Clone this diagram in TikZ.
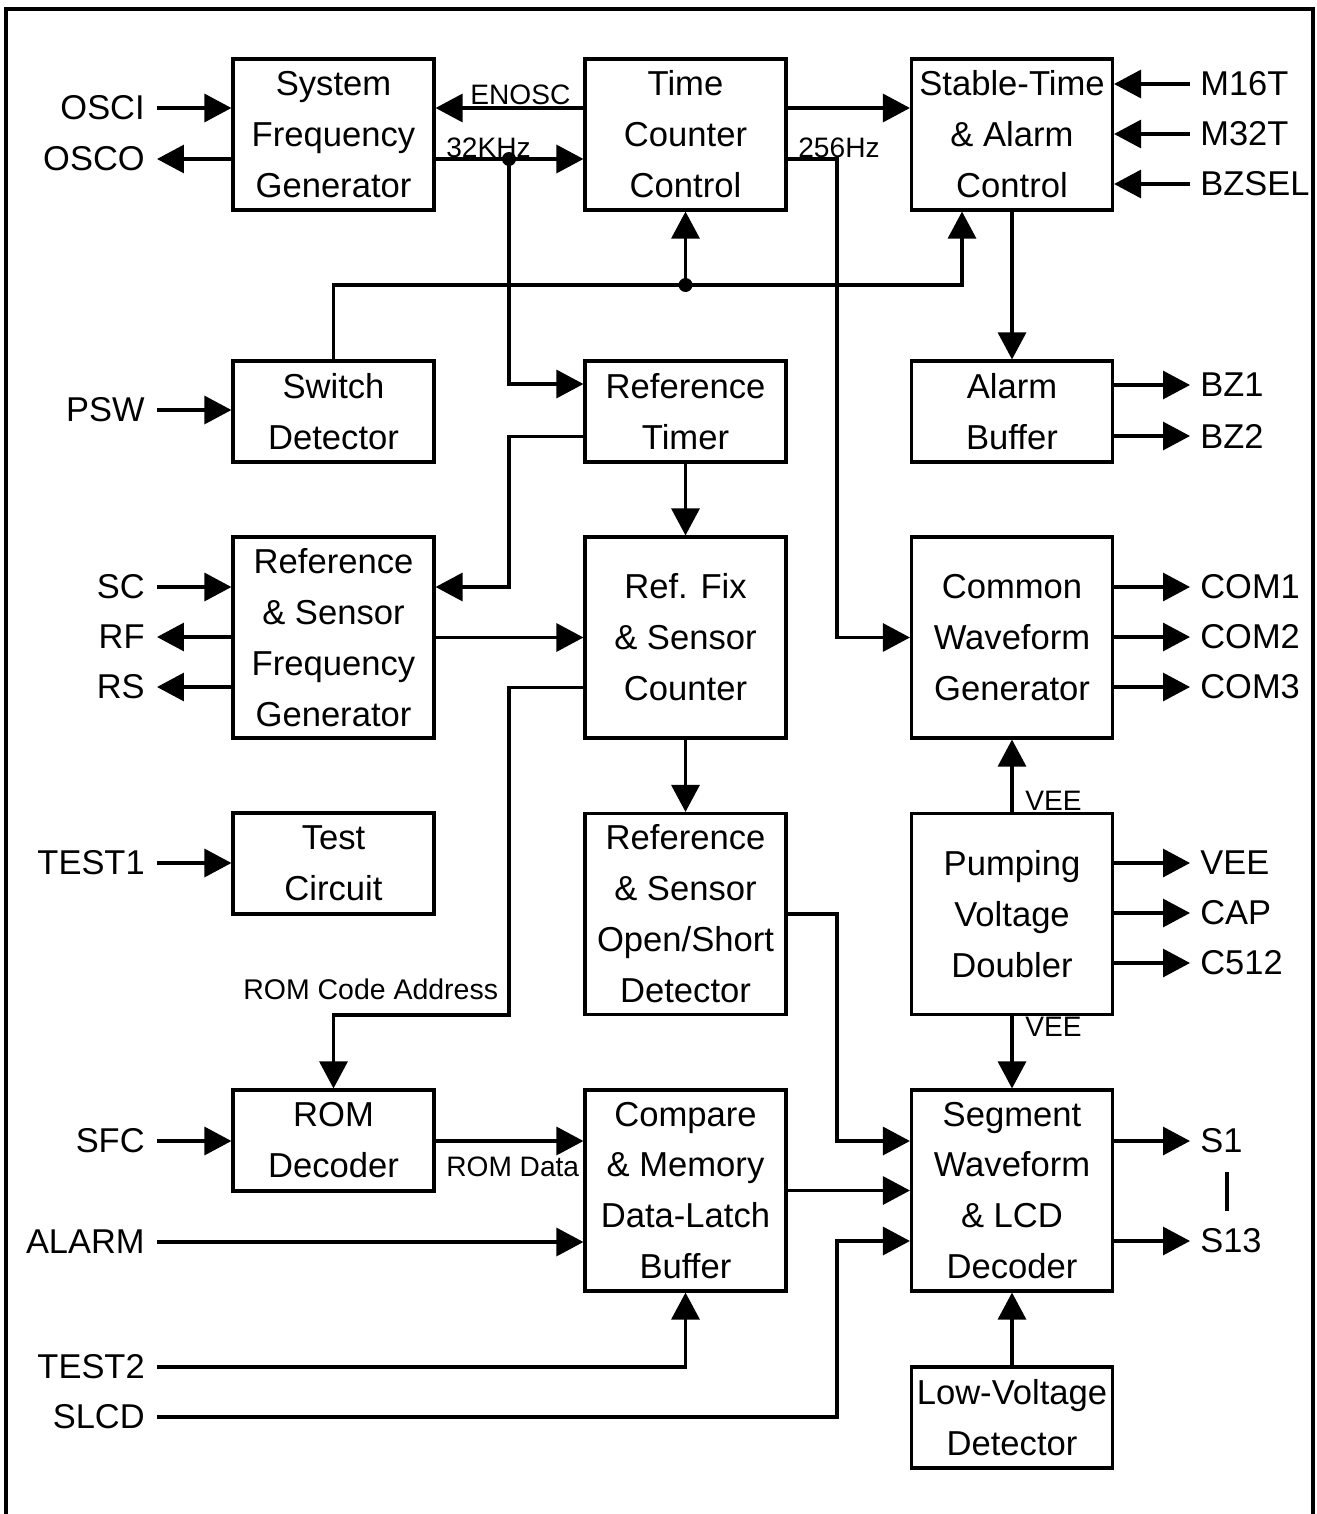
\documentclass[tikz,border=0pt]{standalone}
\usepackage{fontspec}
\setmainfont{Liberation Sans}
\usetikzlibrary{arrows.meta}
\begin{document}
\begin{tikzpicture}[x=0.02cm,y=-0.02cm,
  box/.style={draw, line width=1.8pt, inner sep=0pt, minimum width=4.02cm, align=center,
    font=\fontsize{19.7}{29}\selectfont},
  hone/.style={minimum height=2.02cm},
  honefive/.style={minimum height=3.02cm},
  htwo/.style={minimum height=4.02cm},
  pinl/.style={anchor=east, inner xsep=0.24cm, inner ysep=0pt, font=\fontsize{19.6}{24}\selectfont},
  pinr/.style={anchor=west, inner xsep=0.2cm, inner ysep=0pt, font=\fontsize{19.6}{24}\selectfont},
  sig/.style={line width=1.8pt, -{Triangle[length=0.54cm,width=0.56cm]}},
  wire/.style={line width=1.8pt},
  lbl/.style={inner sep=0pt, font=\fontsize{16}{18}\selectfont},
  jdot/.style={circle, fill, inner sep=0pt, minimum size=0.28cm}
]
\useasboundingbox (0,0) rectangle (1316,1514);
\draw[line width=1.8pt] (6,9) rectangle (1313,1560);

% boxes
\node[box,honefive] (sfg) at (333.5,134.5) {System\\Frequency\\Generator};
\node[box,honefive] (tcc) at (685.5,134.5) {Time\\Counter\\Control};
\node[box,honefive] (sta) at (1012,134.5) {Stable-Time\\\& Alarm\\Control};
\node[box,hone] (swd) at (333.5,411.5) {Switch\\Detector};
\node[box,hone] (rtm) at (685.5,411.5) {Reference\\Timer};
\node[box,hone] (alb) at (1012,411.5) {Alarm\\Buffer};
\node[box,htwo] (rsf) at (333.5,637.5) {Reference\\\& Sensor\\Frequency\\Generator};
\node[box,htwo] (rfx) at (685.5,637.5) {Ref. Fix\\\& Sensor\\Counter};
\node[box,htwo] (cwg) at (1012,637.5) {Common\\Waveform\\Generator};
\node[box,hone] (tst) at (333.5,863.5) {Test\\Circuit};
\node[box,htwo] (osd) at (685.5,914) {Reference\\\& Sensor\\Open/Short\\Detector};
\node[box,htwo] (pvd) at (1012,914) {Pumping\\Voltage\\Doubler};
\node[box,hone] (rom) at (333.5,1140.5) {ROM\\Decoder};
\node[box,htwo] (cmp) at (685.5,1190.5) {Compare\\\& Memory\\Data-Latch\\Buffer};
\node[box,htwo] (seg) at (1012,1190.5) {Segment\\Waveform\\\& LCD\\Decoder};
\node[box,hone] (lvd) at (1012,1417.5) {Low-Voltage\\Detector};

% left pins
\node[pinl] (osci) at (157,108) {OSCI};
\node[pinl] (osco) at (157,159) {OSCO};
\node[pinl] (psw) at (157,410) {PSW};
\node[pinl] (sc) at (157,587) {SC};
\node[pinl] (rf) at (157,637) {RF};
\node[pinl] (rs) at (157,687) {RS};
\node[pinl] (test1) at (157,863) {TEST1};
\node[pinl] (sfc) at (157,1141) {SFC};
\node[pinl] (alarm) at (157,1242) {ALARM};
\node[pinl] (test2) at (157,1367) {TEST2};
\node[pinl] (slcd) at (157,1417) {SLCD};

% right pins
\node[pinr] (m16t) at (1190,84) {M16T};
\node[pinr] (m32t) at (1190,134) {M32T};
\node[pinr] (bzsel) at (1190,184) {BZSEL};
\node[pinr] (bz1) at (1190,385) {BZ1};
\node[pinr] (bz2) at (1190,436) {BZ2};
\node[pinr] (com1) at (1190,587) {COM1};
\node[pinr] (com2) at (1190,637) {COM2};
\node[pinr] (com3) at (1190,687) {COM3};
\node[pinr] (vee) at (1190,863) {VEE};
\node[pinr] (cap) at (1190,913) {CAP};
\node[pinr] (c512) at (1190,963) {C512};
\node[pinr] (s1) at (1190,1141) {S1};
\node[pinr] (s13) at (1190,1241) {S13};

% small labels
\node[lbl, anchor=base west] (lenosc) at (470,105) {ENOSC};
\node[lbl, anchor=base west] (lk32) at (446,157) {32KHz};
\node[lbl, anchor=base west] (lh256) at (798,157) {256Hz};
\node[lbl, anchor=base west] (lveea) at (1025,810) {VEE};
\node[lbl, anchor=base west] (lveeb) at (1025,1036) {VEE};
\node[lbl, anchor=base west] (lromd) at (446,1176) {ROM Data};
\node[lbl, anchor=base west, font=\fontsize{16.2}{18}\selectfont] (lrca) at (243,999) {ROM Code Address};

% junctions
\node[jdot] (ja) at (509,159) {};
\node[jdot] (jb) at (685.5,285) {};

% top row
\draw[sig] (osci.east) -- (osci.east -| sfg.west);
\draw[sig] (osco.east -| sfg.west) -- (osco.east);
\draw[sig] (tcc.west |- osci) -- (sfg.east |- osci);
\draw[sig] (sfg.east |- osco) -- (tcc.west |- osco);
\draw[sig] (tcc.east |- osci) -- (sta.west |- osci);
\draw[sig] (tcc.east |- osco) -- (837,159) -- (837,637.5) -- (cwg.west);
\draw[sig] (m16t.west) -- (m16t.west -| sta.east);
\draw[sig] (m32t.west) -- (m32t.west -| sta.east);
\draw[sig] (bzsel.west) -- (bzsel.west -| sta.east);
\draw[sig] (sta.south) -- (alb.north);
\draw[sig] (alb.east |- bz1.west) -- (bz1.west);
\draw[sig] (alb.east |- bz2.west) -- (bz2.west);

% switch detector bus
\draw[sig] (psw.east) -- (psw.east -| swd.west);
\draw[wire] (swd.north) |- (jb.center);
\draw[sig] (jb.center) -- (tcc.south);
\draw[sig] (jb.center) -| ([xshift=-1cm]sta.south);

% reference timer
\draw[sig] (ja.center) |- ([yshift=0.55cm]rtm.west);
\draw[sig] ([yshift=-0.5cm]rtm.west) -| (509,587) -- (rsf.east |- sc);
\draw[sig] (rtm.south) -- (rfx.north);

% reference & sensor frequency generator
\draw[sig] (sc.east) -- (sc.east -| rsf.west);
\draw[sig] (rf.east -| rsf.west) -- (rf.east);
\draw[sig] (rs.east -| rsf.west) -- (rs.east);
\draw[sig] (rsf.east) -- (rfx.west);

% ref fix
\draw[sig] ([yshift=-1cm]rfx.west) -| (509,1015) -| (rom.north);
\draw[sig] (rfx.south) -- (osd.north);
\draw[sig] (osd.east) -- (837,914) -- (837,1141) -- (seg.west |- sfc);

% common waveform, pumping
\draw[sig] (cwg.east |- com1.west) -- (com1.west);
\draw[sig] (cwg.east |- com2.west) -- (com2.west);
\draw[sig] (cwg.east |- com3.west) -- (com3.west);
\draw[sig] (pvd.north) -- (cwg.south);
\draw[sig] (pvd.east |- vee.west) -- (vee.west);
\draw[sig] (pvd.east |- cap.west) -- (cap.west);
\draw[sig] (pvd.east |- c512.west) -- (c512.west);
\draw[sig] (pvd.south) -- (seg.north);

% lower left
\draw[sig] (test1.east) -- (test1.east -| tst.west);
\draw[sig] (sfc.east) -- (sfc.east -| rom.west);
\draw[sig] (rom.east |- sfc) -- (cmp.west |- sfc);
\draw[sig] (alarm.east) -- (alarm.east -| cmp.west);
\draw[sig] (test2.east) -| (cmp.south);
\draw[sig] (slcd.east) -| (837,1241) -- (seg.west |- s13);
\draw[sig] (cmp.east) -- (seg.west);

% segment outputs
\draw[sig] (seg.east |- s1.west) -- (s1.west);
\draw[sig] (seg.east |- s13.west) -- (s13.west);
\draw[wire] (1227,1172) -- (1227,1211);
\draw[sig] (lvd.north) -- (seg.south);
\end{tikzpicture}
\end{document}
